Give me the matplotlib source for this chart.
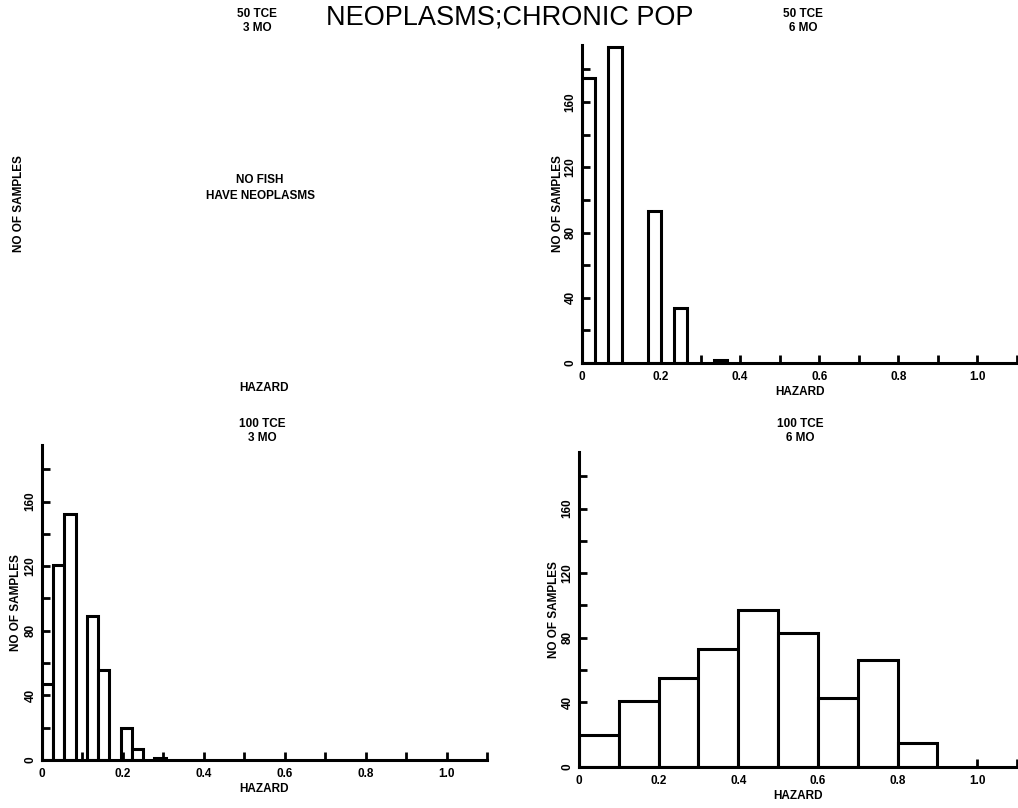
import numpy as np
import matplotlib
matplotlib.use("Agg")
import matplotlib.pyplot as plt
import matplotlib.ticker as mticker

# ----- data -----
# 50 TCE, 6 MO : bins of width 1/30
h50_6_left   = [0.0, 2/30, 5/30, 7/30, 10/30]
h50_6_counts = [175, 194, 93, 34, 2]
h50_6_width  = 1/30

# 100 TCE, 3 MO : bins of width 1/36
h100_3_left   = [0/36, 1/36, 2/36, 4/36, 5/36, 7/36, 8/36, 10/36]
h100_3_counts = [47, 121, 152, 89, 56, 20, 7, 1]
h100_3_width  = 1/36

# 100 TCE, 6 MO : bins of width 0.1
h100_6_left   = [0.0, 0.1, 0.2, 0.3, 0.4, 0.5, 0.6, 0.7, 0.8]
h100_6_counts = [20, 41, 55, 73, 97, 83, 43, 66, 15]
h100_6_width  = 0.1

xtick_vals   = [0, 0.2, 0.4, 0.6, 0.8, 1.0]
xtick_labels = ["0", "0.2", "0.4", "0.6", "0.8", "1.0"]
ytick_vals   = [0, 40, 80, 120, 160]

plt.rcParams.update({
    "font.family": ["Liberation Sans", "DejaVu Sans"],
})

W, H = 1018, 808
fig = plt.figure(figsize=(W / 100, H / 100), dpi=100)
SMALL = 8.5


def px_axes(left, top, right, bottom):
    """axes from pixel box (origin top-left)"""
    return fig.add_axes([left / W, 1 - bottom / H, (right - left) / W, (bottom - top) / H])


def style(ax, ylabelpad):
    ax.set_xlim(0, 1.1)
    ax.set_ylim(0, 195)
    for s in ("top", "right"):
        ax.spines[s].set_visible(False)
    for s in ("left", "bottom"):
        ax.spines[s].set_linewidth(2.2)
    ax.set_xticks(xtick_vals)
    ax.set_xticklabels(xtick_labels)
    ax.xaxis.set_minor_locator(mticker.FixedLocator(np.arange(0.1, 1.15, 0.2)))
    ax.set_yticks(ytick_vals)
    ax.yaxis.set_minor_locator(mticker.FixedLocator([20, 60, 100, 140, 180]))
    ax.tick_params(which="both", direction="in", length=6, width=2)
    ax.tick_params(axis="x", pad=6, labelsize=SMALL)
    ax.tick_params(axis="y", pad=4, labelsize=SMALL, labelrotation=90)
    for lab in ax.get_xticklabels() + ax.get_yticklabels():
        lab.set_fontweight("bold")
    for lab in ax.get_yticklabels():
        lab.set_va("center")
    ax.set_xlabel("HAZARD", fontsize=SMALL, fontweight="bold", labelpad=2)
    ax.set_ylabel("NO OF SAMPLES", fontsize=SMALL, fontweight="bold", labelpad=ylabelpad)


def hist(ax, left, counts, width):
    ax.bar(left, counts, width=width, align="edge", facecolor="white",
           edgecolor="black", linewidth=2.2, zorder=1)


# top-left: empty panel
ax_tl = px_axes(42, 45, 487, 363)
ax_tl.set_xticks([])
ax_tl.set_yticks([])
for s in ax_tl.spines.values():
    s.set_visible(False)
ax_tl.set_xlabel("HAZARD", fontsize=SMALL, fontweight="bold", labelpad=14)
ax_tl.set_ylabel("NO OF SAMPLES", fontsize=SMALL, fontweight="bold", labelpad=12)
ax_tl.text(0.49, 0.55, "NO FISH\nHAVE NEOPLASMS", transform=ax_tl.transAxes,
           ha="center", va="center", fontsize=SMALL, fontweight="bold", linespacing=1.4)

# top-right
ax_tr = px_axes(582, 45, 1017, 363)
hist(ax_tr, h50_6_left, h50_6_counts, h50_6_width)
style(ax_tr, 0)

# bottom-left
ax_bl = px_axes(42, 445, 487, 760)
hist(ax_bl, h100_3_left, h100_3_counts, h100_3_width)
style(ax_bl, 2)

# bottom-right
ax_br = px_axes(579, 452, 1017, 767)
hist(ax_br, h100_6_left, h100_6_counts, h100_6_width)
style(ax_br, 1)

# titles
fig.text(510 / W, 1 - 17 / H, "NEOPLASMS;CHRONIC POP", ha="center", va="center", fontsize=19.5)
panel_titles = [("50 TCE\n3 MO", 257, 21), ("50 TCE\n6 MO", 803, 21),
                ("100 TCE\n3 MO", 262, 431), ("100 TCE\n6 MO", 800, 431)]
for txt, x, y in panel_titles:
    fig.text(x / W, 1 - y / H, txt, ha="center", va="center",
             fontsize=SMALL, fontweight="bold", linespacing=1.2)

plt.savefig("out.png", dpi=100)
